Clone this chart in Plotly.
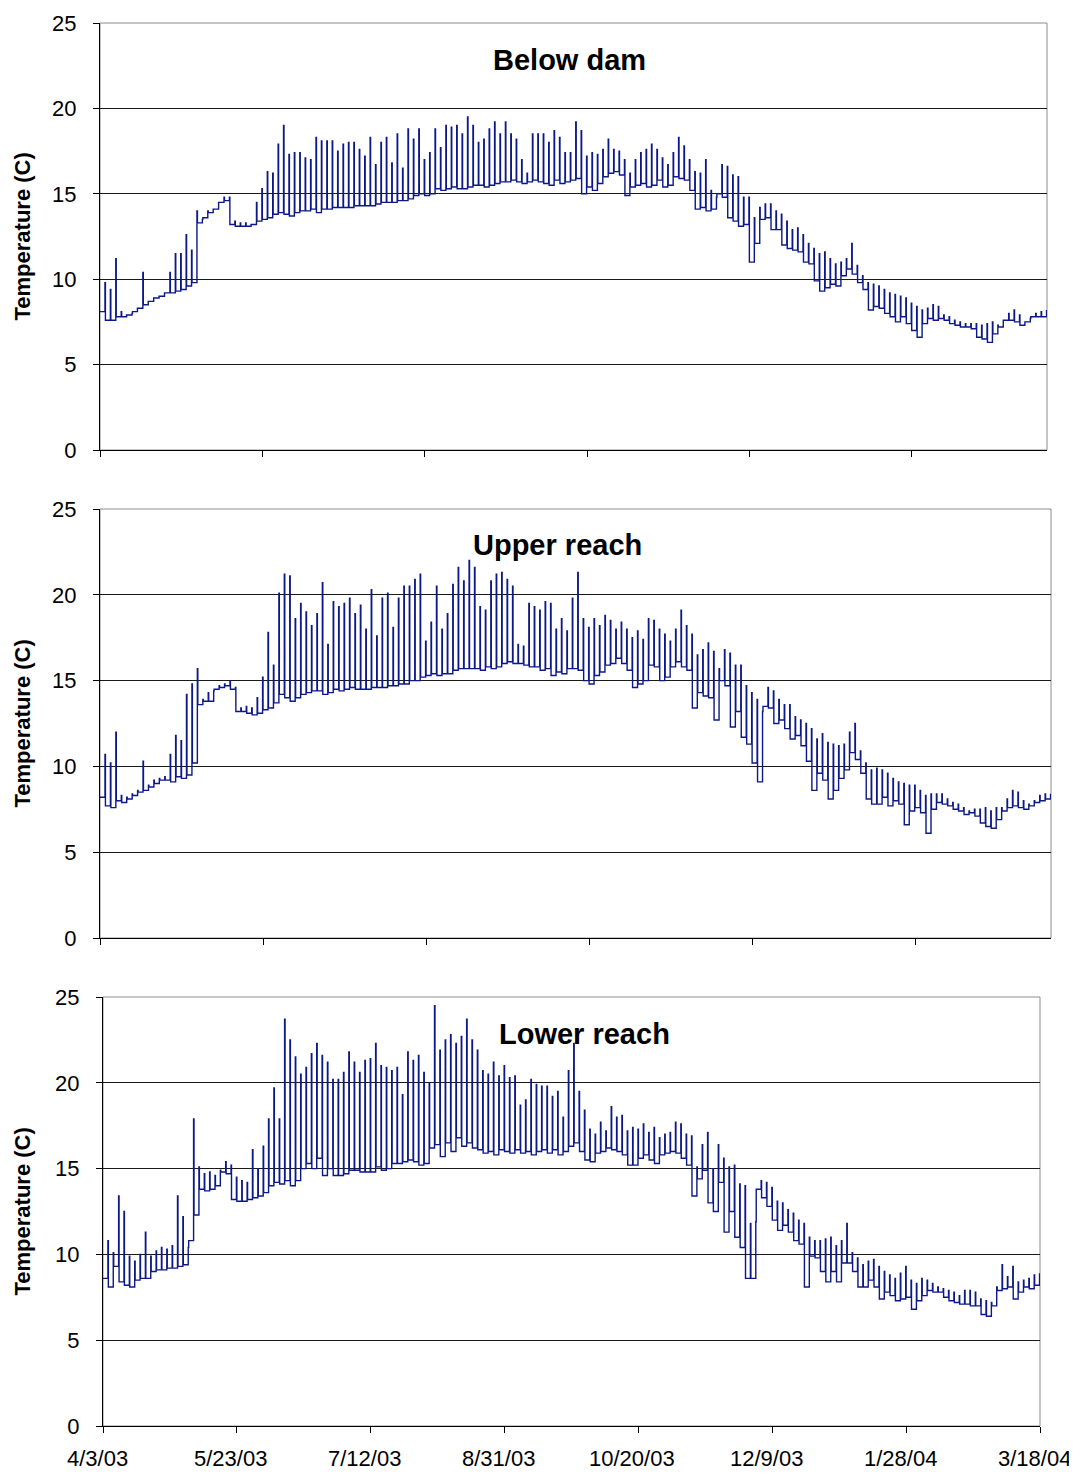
import pandas as pd
import plotly.graph_objects as go

# logger readings, one low/high pair every 2 days from 4/3/03
start = pd.Timestamp("2003-04-03")
end = pd.Timestamp("2004-03-18")
step_days = 2

below_lo = [8.1, 7.6, 7.6, 7.8, 7.8, 7.9, 8.1, 8.3, 8.5, 8.7, 8.9, 9.0, 9.2, 9.2, 9.3, 9.4, 9.6, 9.8, 13.3, 13.6,
            13.9, 14.1, 14.5, 14.6, 13.2, 13.1, 13.1, 13.1, 13.2, 13.4, 13.5, 13.6, 13.8, 13.9, 13.8, 13.7, 13.9, 14.0, 14.0, 14.1,
            13.9, 14.1, 14.1, 14.2, 14.2,
            14.2, 14.2, 14.3, 14.3, 14.3, 14.3, 14.4, 14.5, 14.5, 14.5, 14.6, 14.6, 14.7, 14.9, 15.0, 14.9, 15.0, 15.3, 15.2, 15.3,
            15.4, 15.3, 15.3, 15.4, 15.5, 15.5, 15.4, 15.5, 15.6, 15.7, 15.7, 15.8, 15.7, 15.6, 15.7, 15.8, 15.7, 15.6, 15.5, 15.8,
            15.6, 15.7, 15.8, 15.9,
            15.0, 15.4, 15.2, 15.6, 16.0, 16.2, 16.3, 16.1, 14.9, 15.4, 15.5, 15.6, 15.4, 15.5, 15.8, 15.4, 15.5, 16.0, 15.9, 15.8,
            15.2, 14.1, 14.2, 14.0, 14.1, 15.0, 14.8, 13.6, 13.4, 13.1, 13.2, 11.0, 12.1, 13.5, 13.6, 12.9, 12.9, 12.0, 11.8, 11.7,
            11.6, 11.0, 10.9, 9.9,
            9.3, 9.5, 9.7, 9.6, 10.2, 10.6, 10.3, 9.8, 9.4, 8.2, 8.4, 8.3, 8.0, 7.8, 7.5, 7.8, 7.4, 7.0, 6.6, 7.4,
            7.7, 7.6, 7.7, 7.6, 7.4, 7.3, 7.2, 7.2, 7.1, 6.6, 6.5, 6.3, 6.8, 7.2, 7.6, 7.6, 7.5, 7.3, 7.5, 7.8,
            7.8, 7.8]
below_hi = [9.8, 9.4, 11.2, 8.1, 7.9, 8.0, 8.3, 10.4, 8.7, 8.9, 9.0, 9.2, 10.4, 11.5, 11.5, 12.6, 11.7, 14.0, 13.5, 14.0,
            14.1, 14.5, 14.8, 14.8, 13.4, 13.3, 13.3, 13.2, 14.5, 15.3, 16.3, 16.2, 17.9, 19.0, 17.3, 17.4, 17.4, 17.1, 17.0, 18.3,
            18.1, 18.1, 18.1, 17.5, 17.9,
            18.0, 18.0, 17.6, 17.2, 18.3, 16.7, 18.0, 18.3, 16.8, 18.5, 16.5, 18.8, 18.2, 18.8, 17.0, 17.4, 18.8, 17.7, 19.0, 18.9,
            19.0, 18.5, 19.5, 19.0, 18.0, 18.2, 18.8, 19.2, 18.5, 19.2, 18.5, 18.2, 17.0, 16.2, 18.5, 18.5, 18.5, 18.0, 18.7, 18.3,
            17.4, 17.4, 19.2, 18.7,
            17.2, 17.4, 17.3, 17.6, 18.2, 17.6, 17.5, 17.0, 16.2, 17.0, 17.4, 17.6, 17.9, 17.6, 17.1, 16.7, 17.4, 18.3, 17.8, 17.0,
            16.3, 16.2, 17.0, 15.2, 14.8, 16.7, 16.6, 16.1, 16.0, 14.8, 14.8, 13.6, 14.2, 14.4, 14.4, 14.0, 13.8, 13.4, 12.9, 13.0,
            12.6, 12.1, 11.8, 11.5,
            11.6, 11.2, 10.9, 11.0, 11.2, 12.1, 10.8, 10.2, 9.8, 9.7, 9.6, 9.4, 9.2, 9.1, 9.0, 8.9, 8.6, 8.4, 8.2, 8.3,
            8.5, 8.4, 7.9, 7.8, 7.6, 7.5, 7.4, 7.4, 7.4, 7.3, 7.4, 7.5, 7.3, 7.6, 8.0, 8.2, 7.9, 7.5, 7.7, 8.0,
            8.1, 8.2]

upper_lo = [8.2, 7.7, 7.6, 8.0, 7.9, 8.1, 8.3, 8.5, 8.6, 8.8, 9.0, 9.2, 9.2, 9.1, 9.4, 9.3, 9.5, 10.2, 13.6, 13.8,
            13.8, 14.5, 14.6, 14.7, 14.5, 13.2, 13.2, 13.1, 13.0, 13.1, 13.3, 13.4, 13.7, 14.2, 14.0, 13.8, 14.0, 14.2, 14.3, 14.4,
            14.4, 14.2, 14.3, 14.5, 14.4,
            14.5, 14.6, 14.5, 14.5, 14.5, 14.6, 14.6, 14.6, 14.7, 14.7, 14.8, 14.8, 15.0, 15.0, 15.2, 15.3, 15.4, 15.3, 15.4, 15.4,
            15.6, 15.7, 15.7, 15.7, 15.7, 15.6, 15.8, 15.7, 15.8, 16.0, 16.1, 16.0, 16.0, 15.9, 15.8, 15.8, 15.6, 15.7, 15.3, 15.5,
            15.4, 15.7, 15.7, 15.6,
            15.0, 14.8, 15.3, 15.5, 15.9, 16.0, 16.3, 16.0, 15.6, 14.6, 14.8, 15.0, 15.9, 15.8, 15.0, 15.2, 15.8, 16.1, 15.8, 15.6,
            13.4, 14.3, 14.1, 14.0, 12.7, 15.0, 14.7, 12.3, 13.2, 11.7, 11.3, 10.2, 9.1, 13.5, 13.4, 12.5, 12.7, 12.2, 11.6, 11.8,
            11.2, 10.3, 8.6, 9.6,
            9.2, 8.1, 8.6, 9.3, 9.8, 10.8, 10.4, 9.6, 8.1, 7.8, 7.8, 8.2, 7.7, 8.0, 7.8, 6.6, 7.4, 7.6, 7.3, 6.1,
            7.5, 7.9, 7.8, 7.7, 7.5, 7.4, 7.2, 7.3, 7.1, 6.7, 6.5, 6.4, 6.9, 7.4, 7.6, 7.7, 7.6, 7.5, 7.7, 7.9,
            8.0, 8.1]
upper_hi = [10.7, 10.2, 12.0, 8.3, 8.2, 8.4, 8.6, 10.3, 8.9, 9.2, 9.3, 9.4, 10.7, 11.8, 11.5, 14.2, 14.8, 15.7, 13.9, 14.3,
            14.4, 14.7, 14.8, 15.0, 14.6, 13.4, 13.5, 13.4, 14.0, 15.2, 17.8, 15.9, 20.1, 21.2, 21.1, 18.6, 19.5, 19.0, 18.2, 18.9,
            20.7, 17.1, 19.6, 19.3, 19.5,
            19.8, 18.9, 19.4, 18.0, 20.3, 17.6, 19.8, 20.1, 18.1, 19.8, 20.5, 20.5, 20.9, 21.2, 17.3, 18.4, 20.5, 18.0, 18.9, 20.6,
            21.6, 20.8, 22.0, 21.6, 19.3, 19.1, 20.8, 21.2, 21.3, 20.9, 20.5, 17.1, 17.0, 19.5, 19.3, 19.1, 19.6, 19.5, 18.0, 18.6,
            17.9, 19.8, 21.3, 18.6,
            18.1, 18.6, 18.2, 18.8, 18.5, 18.0, 18.4, 18.0, 17.5, 17.9, 17.4, 18.6, 18.5, 18.0, 17.7, 17.3, 18.0, 19.1, 18.2, 17.7,
            16.5, 16.8, 17.2, 16.7, 15.7, 16.8, 16.6, 15.9, 15.9, 14.7, 14.3, 13.9, 13.2, 14.6, 14.4, 13.9, 13.6, 13.6, 12.9, 12.7,
            12.5, 12.2, 11.6, 11.9,
            11.4, 11.3, 11.2, 11.3, 12.0, 12.5, 10.9, 10.2, 9.8, 9.9, 9.8, 9.6, 9.3, 9.1, 9.0, 8.9, 8.9, 8.6, 8.3, 8.4,
            8.4, 8.4, 8.1, 7.9, 7.8, 7.6, 7.4, 7.5, 7.5, 7.6, 7.4, 7.6, 7.6, 8.1, 8.6, 8.5, 8.0, 7.8, 8.0, 8.3,
            8.4, 8.4]

lower_lo = [8.6, 8.1, 9.3, 8.4, 8.2, 8.1, 8.5, 8.6, 8.6, 9.0, 9.1, 9.1, 9.2, 9.2, 9.3, 9.4, 10.8, 12.3, 13.8, 13.7,
            13.8, 14.0, 14.8, 14.7, 13.2, 13.1, 13.1, 13.2, 13.3, 13.4, 13.6, 14.0, 14.2, 14.1, 14.3, 14.0, 14.3, 15.0, 15.3, 15.0,
            15.6, 14.6, 15.0, 14.6, 14.6, 14.7,
            14.9, 14.9, 14.8, 14.8, 14.8, 15.1, 14.9, 15.0, 15.3, 15.3, 15.4, 15.5, 15.4, 15.2, 15.3, 16.2, 16.4, 15.7, 16.5, 16.0,
            16.8, 16.3, 16.5, 16.2, 16.1, 15.9, 16.0, 15.8, 16.1, 16.0, 15.9, 16.1, 15.9, 16.0, 15.8, 16.0, 16.1, 15.9, 16.1, 15.8,
            16.0, 16.3, 16.5, 16.0,
            15.5, 15.4, 15.9, 16.0, 16.2, 16.1, 16.0, 15.8, 15.2, 15.2, 15.6, 15.8, 15.5, 15.3, 15.8, 15.9, 16.0, 15.9, 15.6, 15.2,
            13.4, 14.4, 14.9, 13.0, 12.5, 14.2, 11.3, 12.5, 11.0, 10.4, 8.6, 8.6, 13.8, 13.3, 12.8, 12.0, 11.4, 11.7, 11.3, 10.8,
            10.6, 8.1, 9.9, 9.8,
            9.0, 8.4, 9.0, 8.4, 9.5, 9.5, 9.0, 8.1, 8.1, 8.5, 8.1, 7.4, 7.8, 7.6, 7.3, 7.4, 7.5, 6.8, 7.3, 7.6,
            7.9, 7.8, 7.8, 7.5, 7.3, 7.2, 7.1, 7.1, 7.0, 7.0, 6.5, 6.4, 7.0, 7.9, 8.0, 8.1, 7.4, 7.8, 8.1, 8.0,
            8.2]
lower_hi = [10.8, 10.1, 13.4, 12.5, 9.9, 9.6, 10.0, 11.3, 9.9, 10.2, 10.4, 10.3, 10.5, 13.4, 12.2, 10.4, 17.9, 15.1, 14.7, 14.8,
            14.6, 14.9, 15.4, 15.2, 14.5, 14.3, 14.2, 16.1, 15.0, 16.3, 17.9, 19.7, 17.9, 23.7, 22.5, 21.5, 20.5, 20.9, 21.7, 22.3,
            21.6, 21.2, 20.2, 20.2, 20.6, 21.8,
            21.2, 20.6, 21.3, 21.4, 22.3, 21.0, 20.9, 20.7, 20.9, 19.3, 21.8, 21.3, 21.6, 20.6, 20.0, 24.5, 21.9, 22.5, 22.8, 22.3,
            22.7, 23.7, 22.5, 21.9, 20.7, 20.5, 21.2, 20.4, 21.0, 20.3, 20.4, 18.7, 19.0, 20.2, 19.9, 19.8, 19.8, 19.2, 19.5, 18.0,
            20.7, 22.3, 19.5, 18.4,
            17.3, 17.0, 17.7, 17.2, 18.6, 18.0, 18.1, 17.2, 17.4, 17.3, 17.6, 17.1, 17.4, 16.8, 17.0, 17.1, 17.7, 17.6, 17.0, 16.9,
            15.1, 16.4, 17.1, 15.0, 16.4, 15.6, 15.1, 15.2, 14.1, 14.0, 11.8, 11.9, 14.3, 14.2, 13.9, 13.1, 13.0, 12.6, 12.4, 12.0,
            11.8, 11.0, 10.8, 10.8,
            10.9, 11.0, 10.5, 10.8, 11.8, 10.1, 9.8, 9.4, 9.6, 9.7, 9.3, 9.0, 8.8, 8.6, 8.9, 9.3, 8.5, 8.3, 8.6, 8.5,
            8.3, 8.1, 8.0, 7.9, 7.8, 7.6, 7.9, 7.9, 7.8, 7.4, 7.3, 7.2, 8.1, 9.4, 8.7, 9.3, 8.4, 8.5, 8.6, 8.8,
            8.9]

titles = ["Below dam", "Upper reach", "Lower reach"]
y_ticks = [0, 5, 10, 15, 20, 25]
bottom_tick_labels = ["4/3/03", "5/23/03", "7/12/03", "8/31/03", "10/20/03", "12/9/03", "1/28/04", "3/18/04"]

# the page body adds an 8px margin, so the figure is drawn 8px smaller and
# every pixel position below is taken relative to that offset
OFF = 8
W, H = 1077 - OFF, 1473 - OFF
FONT = "Liberation Sans, Arial, sans-serif"
LINE = "#0d1888"


def px(x):
    return (x - OFF) / W


def py(y):
    return 1 - (y - OFF) / H


def trace_xy(lo, hi):
    # low held most of the 2 days, brief step up to the daily high
    xs, ys = [], []
    for k, (a, b) in enumerate(zip(lo, hi)):
        t = start + pd.Timedelta(days=step_days * k)
        xs += [t, t + pd.Timedelta(hours=44)]
        ys += [a, b]
    return xs, ys


# panel boxes in reference pixels: left, right, top, bottom
panels = [
    dict(lo=below_lo, hi=below_hi, box=(100, 1047, 23, 450), every=60, labels=False, title_at=(569, 60)),
    dict(lo=upper_lo, hi=upper_hi, box=(100, 1051, 509, 938), every=60, labels=False, title_at=(557, 545)),
    dict(lo=lower_lo, hi=lower_hi, box=(103, 1040, 997, 1426), every=50, labels=True, title_at=(584, 1034)),
]

fig = go.Figure()
annotations = []
shapes = []

for i, p in enumerate(panels, start=1):
    sfx = "" if i == 1 else str(i)
    x0, x1, top, bot = p["box"]
    xs, ys = trace_xy(p["lo"], p["hi"])
    fig.add_trace(go.Scatter(x=xs, y=ys, mode="lines", line=dict(color=LINE, width=1.4, shape="hv"),
                             xaxis="x" + sfx, yaxis="y" + sfx, showlegend=False, hoverinfo="skip"))

    n_ticks = len(bottom_tick_labels) if p["labels"] else 6
    tickvals = [start + pd.Timedelta(days=p["every"] * k) for k in range(n_ticks)]

    fig.update_layout(**{
        "xaxis" + sfx: dict(
            domain=[px(x0), px(x1)], anchor="y" + sfx, type="date",
            range=[start, end], showgrid=False, zeroline=False,
            showline=True, linecolor="black", linewidth=1,
            ticks="outside", ticklen=6, tickcolor="black",
            tickmode="array", tickvals=tickvals, showticklabels=False,
            automargin=False, fixedrange=True,
        ),
        "yaxis" + sfx: dict(
            domain=[py(bot), py(top)], anchor="x" + sfx,
            range=[0, 25], tickmode="array", tickvals=y_ticks,
            showgrid=True, gridcolor="#1a1a1a", gridwidth=1, zeroline=False,
            showline=True, linecolor="black", linewidth=1,
            ticks="outside", ticklen=6, tickcolor="black",
            ticklabelstandoff=12,
            tickfont=dict(family=FONT, size=22, color="black"),
            automargin=False, fixedrange=True,
        ),
    })

    # date labels under the last panel sit a little left of their ticks
    if p["labels"]:
        for tv, lab in zip(tickvals, bottom_tick_labels):
            annotations.append(dict(text=lab, x=tv, y=py(1458), xref="x" + sfx, yref="paper",
                                    xanchor="center", yanchor="middle", xshift=-6,
                                    showarrow=False, font=dict(family=FONT, size=22, color="black")))

    shapes.append(dict(type="rect", xref="x" + sfx + " domain", yref="y" + sfx + " domain",
                       x0=0, x1=1, y0=0, y1=1, line=dict(color="#8c8c8c", width=1), layer="below"))

    tx, ty = p["title_at"]
    annotations.append(dict(text="<b>" + titles[i - 1] + "</b>", x=px(tx), y=py(ty),
                            xref="paper", yref="paper", xanchor="center", yanchor="middle",
                            showarrow=False, font=dict(family=FONT, size=29, color="black")))
    annotations.append(dict(text="<b>Temperature (C)</b>", x=px(22), y=py((top + bot) / 2),
                            xref="paper", yref="paper", xanchor="center", yanchor="middle",
                            textangle=-90, showarrow=False,
                            font=dict(family=FONT, size=22, color="black")))

fig.update_layout(
    template="none",
    width=W, height=H, autosize=False,
    margin=dict(l=0, r=0, t=0, b=0),
    paper_bgcolor="white", plot_bgcolor="white",
    annotations=annotations, shapes=shapes,
)

fig.write_html("out.html")
